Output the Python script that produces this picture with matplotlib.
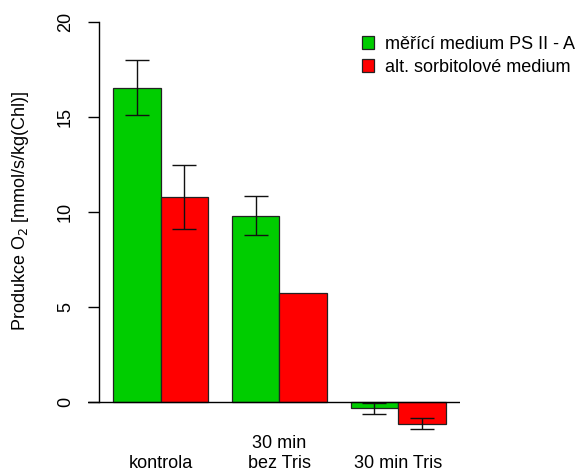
import matplotlib
matplotlib.use("Agg")
import matplotlib.pyplot as plt
from matplotlib.patches import Patch

plt.rcParams['font.family'] = ['Liberation Sans', 'DejaVu Sans']

categories = ["kontrola", "30 min\nbez Tris", "30 min Tris"]
series_names = ["měřící medium PS II - A", "alt. sorbitolové medium"]
green_vals = [16.55, 9.8, -0.33]
green_err = [1.45, 1.03, 0.28]
red_vals = [10.78, 5.74, -1.14]
red_err = [1.7, None, 0.28]
y_ticks = [0, 5, 10, 15, 20]

colors = ["#00CD00", "#FF0000"]

W, H = 581, 472
fig = plt.figure(figsize=(W / 100, H / 100), dpi=100)
# axes box in pixels: x 88..460, y-data -2..20.5 mapped to 440..12.5
left_px, right_px = 88, 460
top_px, bot_px = 12.5, 440
ax = fig.add_axes([left_px / W, (H - bot_px) / H,
                   (right_px - left_px) / W, (bot_px - top_px) / H])

# grouped bar positions: bars width 1, groups separated by 0.5
group_starts = [1.0, 3.5, 6.0]
gx = [s + 0.5 for s in group_starts]
rx = [s + 1.5 for s in group_starts]

ax.bar(gx, green_vals, width=1.0, color=colors[0], edgecolor="#222222", linewidth=0.9, zorder=2)
ax.bar(rx, red_vals, width=1.0, color=colors[1], edgecolor="#222222", linewidth=0.9, zorder=2)

err_kw = dict(fmt="none", ecolor="#111111", elinewidth=1.0, capsize=8.5, capthick=1.0, zorder=3)
ax.errorbar(gx, green_vals, yerr=green_err, **err_kw)
rx_e = [x for x, e in zip(rx, red_err) if e is not None]
rv_e = [v for v, e in zip(red_vals, red_err) if e is not None]
re_e = [e for e in red_err if e is not None]
ax.errorbar(rx_e, rv_e, yerr=re_e, **err_kw)

ax.set_xlim(1 - 25 / 47.5, 1 + 347 / 47.5)
ax.set_ylim(-2, 20.5)
ax.axhline(0, color="black", linewidth=1.0, zorder=4)

for s in ["top", "right", "bottom"]:
    ax.spines[s].set_visible(False)
ax.spines["left"].set_position(("data", 1 - 14 / 47.5))
ax.spines["left"].set_bounds(0, 20)
ax.spines["left"].set_linewidth(1.0)

ax.set_yticks(y_ticks)
ax.set_yticklabels([str(t) for t in y_ticks], rotation=90, va="center", fontsize=13)
ax.tick_params(axis="y", length=8, width=1.0, pad=10)
ax.set_xticks([])

ax.set_ylabel("Produkce O$_2$ [mmol/s/kg(Chl)]", fontsize=13)
ax.yaxis.set_label_coords(-(78 - 21) / (right_px - left_px), (440 - 211) / (bot_px - top_px))

# category labels under each group, bottom-aligned
for s, lab in zip(group_starts, categories):
    ax.text(s + 1.0, -2.0 - (468 - 440) / 19, lab, ha="center", va="baseline",
            fontsize=13, linespacing=1.25, clip_on=False)

handles = [Patch(facecolor=c, edgecolor="#222222", linewidth=0.9) for c in colors]
leg = fig.legend(handles, series_names, loc="upper left",
                 bbox_to_anchor=(362 / W, 1 - 36 / H), frameon=False,
                 fontsize=13, handlelength=0.68, handleheight=0.68,
                 handletextpad=0.62, labelspacing=0.32, borderpad=0,
                 borderaxespad=0)

fig.savefig("out.png", dpi=100)
